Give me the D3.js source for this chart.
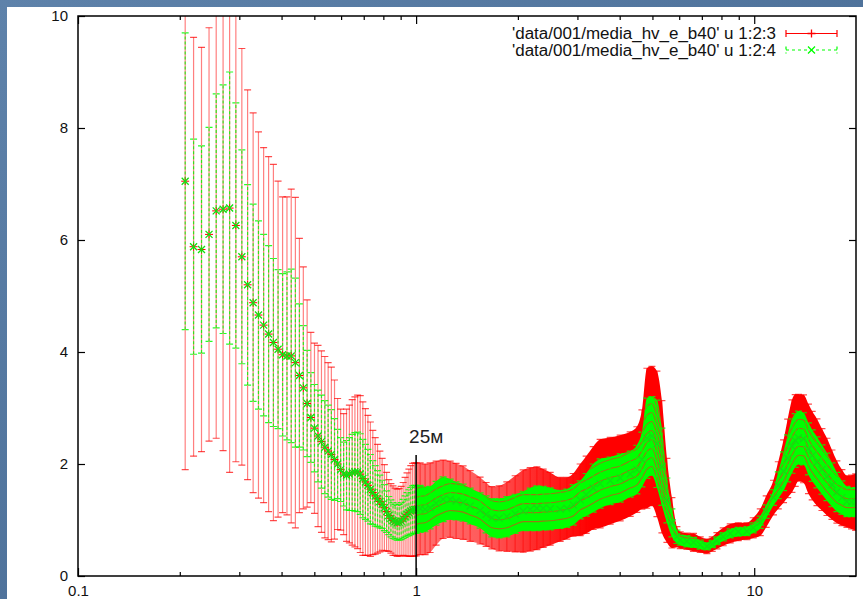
<!DOCTYPE html>
<html>
<head>
<meta charset="utf-8">
<script src="https://cdn.jsdelivr.net/npm/d3@7"></script>
<style>
  html, body { margin: 0; padding: 0; background: #4b6e97; }
  svg { display: block; }
</style>
</head>
<body>
<svg id="chart" width="863" height="599"></svg>
<script>
// H/V spectral ratio: column 1 = frequency (Hz), column 2 = mean ratio,
// column 3 = wide error (red), column 4 = narrow error (green).
const freq = [
  0.2075, 0.2197, 0.2319, 0.2441, 0.2563, 0.2686, 0.2808, 0.2930, 0.3052, 0.3174,
  0.3296, 0.3418, 0.3540, 0.3662, 0.3784, 0.3906, 0.4028, 0.4150, 0.4272, 0.4395,
  0.4517, 0.4639, 0.4761, 0.4883, 0.5005, 0.5127, 0.5249, 0.5371, 0.5493, 0.5615,
  0.5737, 0.5859, 0.5981, 0.6104, 0.6226, 0.6348, 0.6470, 0.6592, 0.6714, 0.6836,
  0.6958, 0.7080, 0.7202, 0.7324, 0.7446, 0.7568, 0.7690, 0.7813, 0.7935, 0.8057,
  0.8179, 0.8301, 0.8423, 0.8545, 0.8667, 0.8789, 0.8911, 0.9033, 0.9155, 0.9277,
  0.9399, 0.9521, 0.9644, 0.9766, 0.9888, 1.0010,
  1.028, 1.063, 1.100, 1.146, 1.202, 1.261, 1.313, 1.377, 1.445, 1.546,
  1.611, 1.675, 1.760, 1.855, 1.963, 2.073, 2.175, 2.276, 2.376, 2.492,
  2.667, 2.792, 2.914, 3.056, 3.184, 3.339, 3.502, 3.750, 4.014, 4.297,
  4.498, 4.654, 4.815, 4.982, 5.155, 5.333, 5.518, 5.709, 5.907, 6.042,
  6.323, 6.614, 6.923, 7.246, 7.513, 7.757, 8.097, 8.493, 8.969, 9.516,
  9.932, 10.42, 10.85, 11.40, 11.78, 12.21, 12.56, 12.93, 13.22, 13.52,
  13.99, 14.47, 14.84, 15.33, 15.86, 16.41, 16.98, 17.56, 18.17, 18.80,
  19.40, 19.95
];

const meanHV = [
  7.05, 5.88, 5.83, 6.10, 6.52, 6.55, 6.57, 6.26, 5.70, 5.20,
  4.88, 4.66, 4.48, 4.32, 4.17, 4.05, 3.95, 3.93, 3.93, 3.81,
  3.58, 3.36, 3.08, 2.83, 2.64, 2.50, 2.40, 2.30, 2.23, 2.17,
  2.08, 2.00, 1.90, 1.82, 1.80, 1.82, 1.85, 1.86, 1.86, 1.82,
  1.74, 1.68, 1.62, 1.55, 1.49, 1.43, 1.38, 1.33, 1.28, 1.22,
  1.15, 1.08, 1.03, 0.99, 0.97, 0.95, 0.96, 0.98, 1.02, 1.06,
  1.10, 1.13, 1.16, 1.18, 1.19, 1.19,
  1.20, 1.19, 1.22, 1.30, 1.37, 1.37, 1.34, 1.31, 1.25, 1.17,
  1.10, 1.04, 1.03, 1.06, 1.11, 1.16, 1.19, 1.21, 1.21, 1.20,
  1.19, 1.21, 1.27, 1.36, 1.45, 1.57, 1.65, 1.70, 1.75, 1.82,
  1.90, 2.08, 2.46, 2.50, 2.36, 1.95, 1.35, 0.95, 0.70, 0.64,
  0.62, 0.60, 0.56, 0.53, 0.57, 0.63, 0.70, 0.76, 0.79, 0.80,
  0.86, 0.96, 1.15, 1.40, 1.62, 1.87, 2.10, 2.32, 2.42, 2.47,
  2.45, 2.27, 2.15, 2.03, 1.90, 1.77, 1.63, 1.50, 1.40, 1.33,
  1.32, 1.32
];

const errCol3 = [
  5.15, 3.74, 3.61, 3.69, 4.06, 4.31, 4.72, 4.22, 3.72, 3.48,
  3.39, 3.27, 3.17, 3.17, 3.18, 3.00, 2.82, 2.84, 2.98, 2.95,
  2.45, 2.16, 1.85, 1.52, 1.52, 1.62, 1.62, 1.62, 1.58, 1.56,
  1.42, 1.17, 1.08, 1.08, 1.18, 1.23, 1.30, 1.34, 1.37, 1.40,
  1.37, 1.31, 1.25, 1.20, 1.11, 1.04, 0.97, 0.90, 0.82, 0.77,
  0.70, 0.64, 0.62, 0.62, 0.60, 0.60, 0.60, 0.62, 0.65, 0.70,
  0.74, 0.78, 0.81, 0.83, 0.83, 0.83,
  0.82, 0.81, 0.80, 0.75, 0.70, 0.68, 0.67, 0.655, 0.63, 0.595,
  0.57, 0.555, 0.58, 0.62, 0.68, 0.735, 0.745, 0.74, 0.70, 0.65,
  0.57, 0.55, 0.56, 0.64, 0.69, 0.74, 0.79, 0.775, 0.765, 0.755,
  0.765, 0.885, 1.25, 1.245, 1.30, 1.18, 0.75, 0.45, 0.18, 0.15,
  0.145, 0.16, 0.14, 0.13, 0.13, 0.145, 0.16, 0.17, 0.16, 0.15,
  0.18, 0.24, 0.28, 0.31, 0.42, 0.56, 0.70, 0.825, 0.82, 0.775,
  0.785, 0.80, 0.79, 0.775, 0.73, 0.69, 0.62, 0.555, 0.50, 0.46,
  0.48, 0.505
];

const errCol4 = [
  2.65, 1.92, 1.85, 1.91, 2.09, 2.22, 2.43, 2.19, 1.91, 1.79,
  1.76, 1.68, 1.62, 1.58, 1.50, 1.42, 1.45, 1.50, 1.55, 1.51,
  1.28, 1.11, 0.95, 0.80, 0.78, 0.82, 0.83, 0.83, 0.82, 0.80,
  0.73, 0.62, 0.57, 0.57, 0.62, 0.65, 0.68, 0.70, 0.71, 0.72,
  0.70, 0.67, 0.64, 0.62, 0.57, 0.54, 0.50, 0.47, 0.43, 0.41,
  0.37, 0.34, 0.33, 0.32, 0.31, 0.31, 0.32, 0.33, 0.35, 0.37,
  0.39, 0.41, 0.42, 0.43, 0.43, 0.43,
  0.42, 0.40, 0.38, 0.39, 0.40, 0.36, 0.34, 0.33, 0.32, 0.315,
  0.33, 0.34, 0.35, 0.36, 0.35, 0.35, 0.38, 0.40, 0.39, 0.375,
  0.34, 0.34, 0.36, 0.34, 0.38, 0.43, 0.44, 0.425, 0.43, 0.41,
  0.435, 0.49, 0.715, 0.705, 0.78, 0.69, 0.40, 0.25, 0.12, 0.09,
  0.10, 0.09, 0.08, 0.065, 0.065, 0.07, 0.075, 0.08, 0.08, 0.08,
  0.09, 0.11, 0.12, 0.14, 0.24, 0.345, 0.42, 0.485, 0.48, 0.475,
  0.465, 0.465, 0.46, 0.455, 0.44, 0.425, 0.39, 0.35, 0.30, 0.27,
  0.26, 0.255
];

const xMajorTicks = [0.1, 1, 10];
const xMinorTicks = [0.2, 0.3, 0.4, 0.5, 0.6, 0.7, 0.8, 0.9, 2, 3, 4, 5, 6, 7, 8, 9];
const yTicks = [0, 2, 4, 6, 8, 10];
const legendLabels = [
  "'data/001/media_hv_e_b40' u 1:2:3",
  "'data/001/media_hv_e_b40' u 1:2:4"
];
const markerFreq = 1;
const markerLabel = "25м";
const denseFrom = 1.0; // above this frequency the bars merge into a band

// ---- layout -------------------------------------------------------------
const W = 863, H = 599;
const plot = { left: 78, right: 856, top: 16, bottom: 576 };
const RED = "#ff0000", GREEN = "#00ff00";
const FONT = "'Liberation Sans', Arial, Helvetica, sans-serif";

const x = d3.scaleLog().domain([0.1, 20]).range([plot.left, plot.right]);
const y = d3.scaleLinear().domain([0, 10]).range([plot.bottom, plot.top]);

const rows = freq.map((f, i) => ({ f, m: meanHV[i], er: errCol3[i], eg: errCol4[i] }));
const dense = rows.filter(d => d.f >= denseFrom);

const svg = d3.select("#chart");
const defs = svg.append("defs");

// slide background and white page
const bgGrad = defs.append("linearGradient").attr("id", "slideBg")
  .attr("x1", 0).attr("y1", 0).attr("x2", 1).attr("y2", 1);
bgGrad.append("stop").attr("offset", 0).attr("stop-color", "#5e82aa");
bgGrad.append("stop").attr("offset", 1).attr("stop-color", "#41648d");
svg.append("rect").attr("width", W).attr("height", H).attr("fill", "url(#slideBg)");
svg.append("rect").attr("x", 7).attr("y", 7).attr("width", W - 7).attr("height", H - 7).attr("fill", "#fff");

defs.append("clipPath").attr("id", "plotClip").append("rect")
  .attr("x", plot.left).attr("y", plot.top)
  .attr("width", plot.right - plot.left).attr("height", plot.bottom - plot.top);

// colour ramp of the merged red band (thin bars look pink where they are sparse)
const redRamp = defs.append("linearGradient").attr("id", "redBand")
  .attr("gradientUnits", "userSpaceOnUse")
  .attr("x1", x(1)).attr("x2", x(3.3)).attr("y1", 0).attr("y2", 0);
[[0, "#ff6e6e"], [0.4, "#ff5a5a"], [0.7, "#ff2626"], [1, "#ff0000"]].forEach(([o, c]) =>
  redRamp.append("stop").attr("offset", o).attr("stop-color", c));

const layer = svg.append("g").attr("clip-path", "url(#plotClip)");

// ---- series 1: mean with column-3 error bars (red) ----------------------
const areaRed = d3.area()
  .x(d => x(d.f)).y0(d => y(d.m - d.er)).y1(d => y(d.m + d.er))
  .curve(d3.curveMonotoneX);
layer.append("path").datum(dense).attr("d", areaRed).attr("fill", "url(#redBand)");

const capHalf = 3.5;
const red = layer.append("g");
red.selectAll("line.bar").data(rows).join("line").attr("class", "bar")
  .attr("x1", d => x(d.f)).attr("x2", d => x(d.f))
  .attr("y1", d => y(d.m - d.er)).attr("y2", d => y(d.m + d.er))
  .attr("stroke", RED).attr("stroke-width", 1.2).attr("stroke-opacity", 0.5);
red.selectAll("path.cap").data(rows).join("path").attr("class", "cap")
  .attr("d", d => `M${x(d.f) - capHalf},${y(d.m - d.er)}h${2 * capHalf}M${x(d.f) - capHalf},${y(d.m + d.er)}h${2 * capHalf}`)
  .attr("stroke", RED).attr("stroke-width", 1.2).attr("stroke-opacity", 0.7);
red.selectAll("path.pt").data(rows).join("path").attr("class", "pt")
  .attr("d", d => `M${x(d.f) - 4},${y(d.m)}h8M${x(d.f)},${y(d.m) - 4}v8`)
  .attr("stroke", RED).attr("stroke-width", 1);

// ---- series 2: mean with column-4 error bars (green, dashed) -------------
const areaGreen = d3.area()
  .x(d => x(d.f)).y0(d => y(d.m - d.eg)).y1(d => y(d.m + d.eg))
  .curve(d3.curveMonotoneX);
layer.append("path").datum(dense).attr("d", areaGreen).attr("fill", GREEN);

// gaps of the dashed bars let the red band show through as stripes
defs.append("clipPath").attr("id", "greenBandClip")
  .append("path").datum(dense).attr("d", areaGreen);
const stripeGap = 9;
const stripes = layer.append("g").attr("clip-path", "url(#greenBandClip)");
d3.range(1, 14).forEach(n => {
  const stripe = d3.line()
    .x(d => x(d.f)).y(d => y(d.m - d.eg) - n * stripeGap)
    .curve(d3.curveMonotoneX);
  stripes.append("path").datum(dense).attr("d", stripe)
    .attr("fill", "none").attr("stroke", "#d8401c")
    .attr("stroke-width", 1.1).attr("stroke-opacity", 0.7);
});

const green = layer.append("g");
green.selectAll("path.bar").data(rows).join("path").attr("class", "bar")
  .attr("d", d => `M${x(d.f)},${y(d.m - d.eg)}V${y(d.m + d.eg)}`)
  .attr("stroke", GREEN).attr("stroke-width", 1.2).attr("stroke-opacity", 0.8)
  .attr("stroke-dasharray", "3,2");
green.selectAll("path.cap").data(rows).join("path").attr("class", "cap")
  .attr("d", d => `M${x(d.f) - capHalf},${y(d.m - d.eg)}h${2 * capHalf}M${x(d.f) - capHalf},${y(d.m + d.eg)}h${2 * capHalf}`)
  .attr("stroke", GREEN).attr("stroke-width", 1.2).attr("stroke-opacity", 0.85)
  .attr("stroke-dasharray", "3,1");
green.selectAll("path.pt").data(rows).join("path").attr("class", "pt")
  .attr("d", d => `M${x(d.f) - 3.5},${y(d.m) - 3.5}l7,7M${x(d.f) - 3.5},${y(d.m) + 3.5}l7,-7`)
  .attr("stroke", "#10e010").attr("stroke-width", 1.3);

// ---- annotation at 1 Hz ---------------------------------------------------
svg.append("line")
  .attr("x1", x(markerFreq)).attr("x2", x(markerFreq))
  .attr("y1", 455).attr("y2", plot.bottom)
  .attr("stroke", "#000").attr("stroke-width", 1.5);
svg.append("text")
  .attr("x", x(markerFreq) - 7).attr("y", 443)
  .attr("font-family", FONT).attr("font-size", 19).attr("fill", "#222")
  .text(markerLabel);

// ---- axes -----------------------------------------------------------------
function styleAxis(g) {
  g.select(".domain").remove();
  g.selectAll(".tick line").attr("stroke", "#000").attr("stroke-width", 1.2);
  g.selectAll(".tick text").attr("font-family", FONT).attr("font-size", 15).attr("fill", "#111");
}
const fmt = d3.format("~g");
svg.append("g").attr("transform", `translate(0,${plot.bottom})`)
  .call(d3.axisBottom(x).tickValues(xMajorTicks).tickFormat(fmt).tickSizeInner(-8).tickSizeOuter(0).tickPadding(9))
  .call(styleAxis);
svg.append("g").attr("transform", `translate(0,${plot.bottom})`)
  .call(d3.axisBottom(x).tickValues(xMinorTicks).tickFormat("").tickSizeInner(-4).tickSizeOuter(0))
  .call(styleAxis);
svg.append("g").attr("transform", `translate(0,${plot.top})`)
  .call(d3.axisTop(x).tickValues(xMajorTicks).tickFormat("").tickSizeInner(-8).tickSizeOuter(0))
  .call(styleAxis);
svg.append("g").attr("transform", `translate(0,${plot.top})`)
  .call(d3.axisTop(x).tickValues(xMinorTicks).tickFormat("").tickSizeInner(-4).tickSizeOuter(0))
  .call(styleAxis);
svg.append("g").attr("transform", `translate(${plot.left},0)`)
  .call(d3.axisLeft(y).tickValues(yTicks).tickFormat(fmt).tickSizeInner(-7).tickSizeOuter(0).tickPadding(10))
  .call(styleAxis);
svg.append("g").attr("transform", `translate(${plot.right},0)`)
  .call(d3.axisRight(y).tickValues(yTicks).tickFormat("").tickSizeInner(-7).tickSizeOuter(0))
  .call(styleAxis);

svg.append("rect")
  .attr("x", plot.left).attr("y", plot.top)
  .attr("width", plot.right - plot.left).attr("height", plot.bottom - plot.top)
  .attr("fill", "none").attr("stroke", "#000").attr("stroke-width", 1.5);

// ---- key ------------------------------------------------------------------
const key = svg.append("g");
const keyRows = [
  { label: legendLabels[0], y: 33.5, color: RED, dash: null, mark: "plus" },
  { label: legendLabels[1], y: 50, color: GREEN, dash: "3,3", mark: "cross" }
];
const sx0 = 786, sx1 = 837, sxm = (sx0 + sx1) / 2;
keyRows.forEach(r => {
  key.append("text")
    .attr("x", 776).attr("y", r.y).attr("dy", "0.35em")
    .attr("text-anchor", "end")
    .attr("font-family", FONT).attr("font-size", 16).attr("fill", "#111")
    .attr("textLength", 264).attr("lengthAdjust", "spacingAndGlyphs")
    .text(r.label);
  key.append("path")
    .attr("d", `M${sx0},${r.y}H${sx1}M${sx0},${r.y - 3.5}v7M${sx1},${r.y - 3.5}v7`)
    .attr("stroke", r.color).attr("stroke-width", 1.2).attr("fill", "none")
    .attr("stroke-dasharray", r.dash);
  key.append("path")
    .attr("d", r.mark === "plus"
      ? `M${sxm - 4},${r.y}h8M${sxm},${r.y - 4}v8`
      : `M${sxm - 3.5},${r.y - 3.5}l7,7M${sxm - 3.5},${r.y + 3.5}l7,-7`)
    .attr("stroke", r.color).attr("stroke-width", 1.3);
});
</script>
</body>
</html>
